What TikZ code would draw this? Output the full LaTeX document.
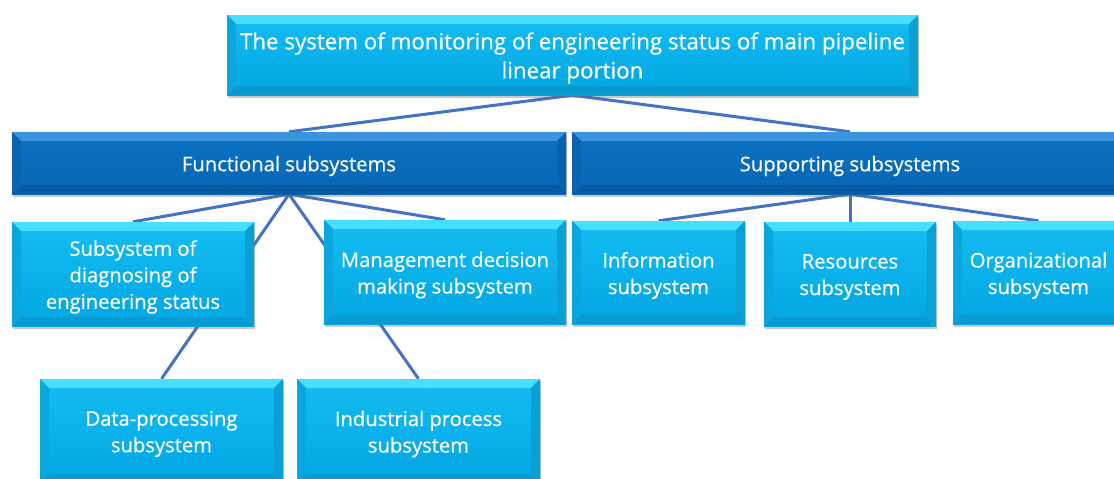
\documentclass[tikz,border=0pt]{standalone}
\usepackage{fontspec}
\setmainfont[FakeBold=0.5]{Open Sans}
\usetikzlibrary{backgrounds,shadows}

\definecolor{linkblue}{HTML}{4472C4}
% light cyan boxes
\definecolor{lcTop}{HTML}{14BDF2}
\definecolor{lcBot}{HTML}{02A6E3}
\definecolor{lcBevT}{HTML}{45E0FF}
\definecolor{lcBevL}{HTML}{0AA6DE}
\definecolor{lcBevB}{HTML}{089AD0}
\definecolor{lcBevR}{HTML}{0AA0D6}
% dark blue boxes
\definecolor{dbTop}{HTML}{0B72C2}
\definecolor{dbBot}{HTML}{0666B3}
\definecolor{dbBevT}{HTML}{3A95DE}
\definecolor{dbBevL}{HTML}{0A64B0}
\definecolor{dbBevB}{HTML}{065BA2}
\definecolor{dbBevR}{HTML}{0862AE}

\tikzset{
  bevel/.style n args={4}{
    path picture={
      \def\bw{9pt}
      \fill[#1] (path picture bounding box.north west) -- (path picture bounding box.north east)
        -- ([xshift=-\bw,yshift=-\bw]path picture bounding box.north east)
        -- ([xshift=\bw,yshift=-\bw]path picture bounding box.north west) -- cycle;
      \fill[#2] (path picture bounding box.north west) -- (path picture bounding box.south west)
        -- ([xshift=\bw,yshift=\bw]path picture bounding box.south west)
        -- ([xshift=\bw,yshift=-\bw]path picture bounding box.north west) -- cycle;
      \fill[#3] (path picture bounding box.south west) -- (path picture bounding box.south east)
        -- ([xshift=-\bw,yshift=\bw]path picture bounding box.south east)
        -- ([xshift=\bw,yshift=\bw]path picture bounding box.south west) -- cycle;
      \fill[#4] (path picture bounding box.north east) -- (path picture bounding box.south east)
        -- ([xshift=-\bw,yshift=\bw]path picture bounding box.south east)
        -- ([xshift=-\bw,yshift=-\bw]path picture bounding box.north east) -- cycle;
    }},
  boxbase/.style={rectangle, inner sep=0pt,
    drop shadow={shadow xshift=1pt, shadow yshift=-2.5pt, opacity=0.35, fill=black!60}},
  lightbox/.style={boxbase, top color=lcTop, bottom color=lcBot,
    bevel={lcBevT}{lcBevL}{lcBevB}{lcBevR}},
  darkbox/.style={boxbase, top color=dbTop, bottom color=dbBot,
    bevel={dbBevT}{dbBevL}{dbBevB}{dbBevR}},
  boxtext/.style={inner sep=0pt, align=center, text=white, yshift=-3pt,
    font=\fontsize{20.2}{26.5}\selectfont},
  caption/.style={label={[boxtext]center:{#1}}},
  link/.style={draw=linkblue, line width=3pt},
}

\begin{document}
\begin{tikzpicture}[x=1pt, y=-1pt]
  \useasboundingbox (0,0) rectangle (1114,479);

  % root
  \node[lightbox, minimum width=691pt, minimum height=80pt,
    label={[boxtext, font=\fontsize{22.3}{29}\selectfont]center:{The system of monitoring of engineering status of main pipeline\\linear portion}}]
    (root) at (572.5,55) {};

  % second level
  \node[darkbox, minimum width=554pt, minimum height=62pt,
    caption={Functional subsystems}] (func) at (289,163) {};
  \node[darkbox, minimum width=556pt, minimum height=62pt,
    caption={Supporting subsystems}] (supp) at (850,163) {};

  % functional branch
  \node[lightbox, minimum width=242pt, minimum height=104pt,
    caption={Subsystem of\\diagnosing of\\engineering status}] (diag) at (133,274) {};
  \node[lightbox, minimum width=242pt, minimum height=104pt,
    caption={Management decision\\making subsystem}] (mgmt) at (445,272) {};
  \node[lightbox, minimum width=243pt, minimum height=104pt,
    caption={Data-processing\\subsystem}] (data) at (161.5,431) {};
  \node[lightbox, minimum width=243pt, minimum height=104pt,
    caption={Industrial process\\subsystem}] (indu) at (418.5,431) {};

  % supporting branch
  \node[lightbox, minimum width=173pt, minimum height=103pt,
    caption={Information\\subsystem}] (info) at (658.5,272.5) {};
  \node[lightbox, minimum width=172pt, minimum height=104pt,
    caption={Resources\\subsystem}] (reso) at (850,274) {};
  \node[lightbox, minimum width=171pt, minimum height=103pt,
    caption={Organizational\\subsystem}] (orga) at (1038.5,272.5) {};

  \begin{pgfonlayer}{background}
    \fill[white] (0,0) rectangle (1114,479);
    \draw[link] (root.south) -- (func.north);
    \draw[link] (root.south) -- (supp.north);
    \draw[link] (func.south) -- (diag.north);
    \draw[link] (func.south) -- (mgmt.north);
    \draw[link] (func.south) -- (data.north);
    \draw[link] (func.south) -- (indu.north);
    \draw[link] (supp.south) -- (info.north);
    \draw[link] (supp.south) -- (reso.north);
    \draw[link] (supp.south) -- (orga.north);
  \end{pgfonlayer}
\end{tikzpicture}
\end{document}
